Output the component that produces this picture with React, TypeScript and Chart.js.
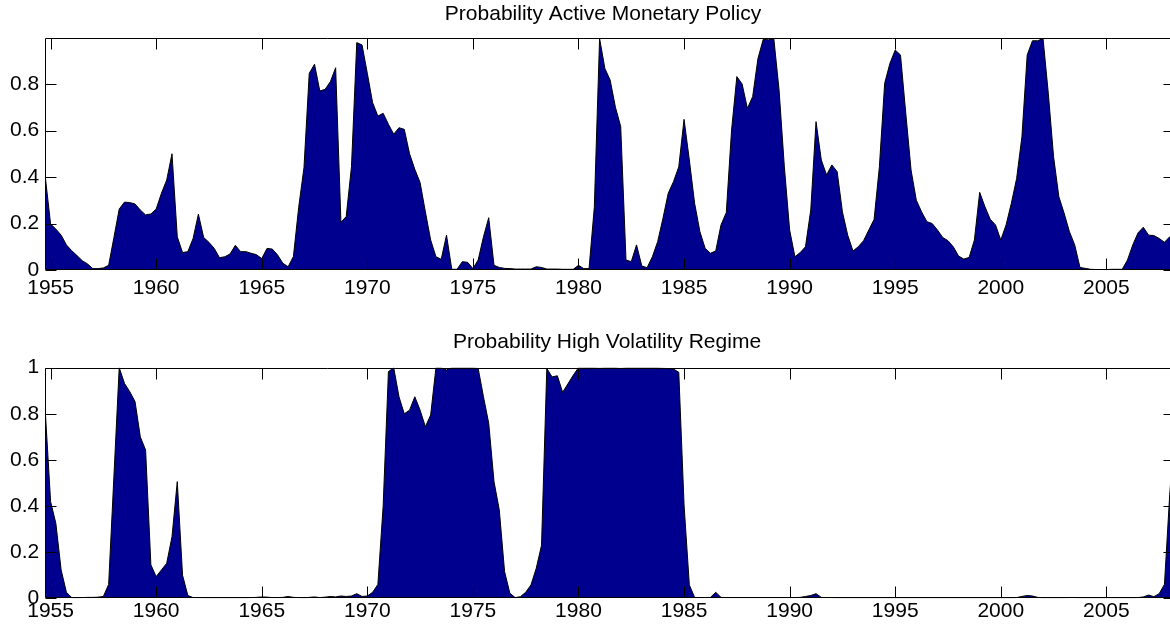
import React, { useEffect, useRef } from 'react';
import { Chart, registerables } from 'chart.js';

Chart.register(...registerables);

// Quarterly observations starting 1954Q4
const START_YEAR = 1954.75;
const END_YEAR = 2008.25;

const xTicks = [1955, 1960, 1965, 1970, 1975, 1980, 1985, 1990, 1995, 2000, 2005];
const activeTicks = [0, 0.2, 0.4, 0.6, 0.8];
const volTicks = [0, 0.2, 0.4, 0.6, 0.8, 1];

const activeTitle = 'Probability Active Monetary Policy';
const volTitle = 'Probability High Volatility Regime';

const activeProb = [
  0.40, 0.198, 0.176, 0.15, 0.108, 0.083, 0.062, 0.04, 0.026, 0.006,
  0.006, 0.009, 0.02, 0.14, 0.262, 0.292, 0.29, 0.284, 0.258, 0.237,
  0.241, 0.262, 0.33, 0.387, 0.50, 0.143, 0.075, 0.079, 0.136, 0.24,
  0.14, 0.119, 0.093, 0.053, 0.057, 0.069, 0.106, 0.079, 0.079, 0.072,
  0.066, 0.049, 0.093, 0.09, 0.065, 0.029, 0.014, 0.058, 0.27, 0.44,
  0.846, 0.885, 0.77, 0.777, 0.81, 0.87, 0.205, 0.23, 0.444, 0.978,
  0.968, 0.846, 0.72, 0.662, 0.674, 0.627, 0.584, 0.612, 0.605, 0.50,
  0.433, 0.376, 0.25, 0.129, 0.057, 0.046, 0.15, 0.003, 0.003, 0.036,
  0.033, 0.006, 0.043, 0.143, 0.225, 0.02, 0.011, 0.007, 0.006, 0.004,
  0.004, 0.004, 0.004, 0.014, 0.011, 0.004, 0.004, 0.004, 0.003, 0.003,
  0.003, 0.02, 0.006, 0.006, 0.27, 0.996, 0.867, 0.817, 0.70, 0.617,
  0.043, 0.036, 0.108, 0.017, 0.01, 0.057, 0.122, 0.222, 0.33, 0.38,
  0.444, 0.648, 0.473, 0.287, 0.165, 0.093, 0.072, 0.082, 0.194, 0.247,
  0.602, 0.832, 0.80, 0.695, 0.746, 0.91, 0.992, 0.99, 0.996, 0.774,
  0.444, 0.172, 0.057, 0.075, 0.10, 0.258, 0.638, 0.473, 0.409, 0.452,
  0.423, 0.25, 0.15, 0.082, 0.10, 0.126, 0.172, 0.218, 0.444, 0.803,
  0.889, 0.946, 0.925, 0.674, 0.43, 0.30, 0.25, 0.208, 0.20, 0.172,
  0.14, 0.126, 0.10, 0.06, 0.047, 0.054, 0.129, 0.334, 0.272, 0.218,
  0.194, 0.129, 0.194, 0.287, 0.394, 0.573, 0.925, 0.986, 0.986, 0.996,
  0.76, 0.487, 0.315, 0.244, 0.165, 0.108, 0.011, 0.007, 0.003, 0.002,
  0.002, 0.002, 0.003, 0.003, 0.003, 0.043, 0.108, 0.16, 0.184, 0.15,
  0.148, 0.136, 0.119, 0.143, 0.15,
];

const highVolProb = [
  0.81, 0.42, 0.325, 0.123, 0.026, 0.003, 0.002, 0.003, 0.004, 0.004,
  0.005, 0.008, 0.06, 0.53, 1.0, 0.932, 0.896, 0.853, 0.70, 0.643,
  0.145, 0.094, 0.123, 0.152, 0.267, 0.506, 0.10, 0.012, 0.003, 0.003,
  0.002, 0.002, 0.002, 0.002, 0.002, 0.002, 0.002, 0.002, 0.002, 0.003,
  0.004, 0.006, 0.005, 0.003, 0.003, 0.004, 0.008, 0.004, 0.003, 0.002,
  0.004, 0.006, 0.003, 0.005, 0.008, 0.006, 0.01, 0.008, 0.01, 0.02,
  0.008, 0.01, 0.026, 0.06, 0.4, 0.983, 1.0, 0.874, 0.80, 0.816,
  0.874, 0.816, 0.744, 0.795, 1.0, 1.0, 0.99, 1.0, 1.0, 1.0,
  1.0, 1.0, 0.997, 0.874, 0.759, 0.506, 0.383, 0.116, 0.022, 0.003,
  0.007, 0.026, 0.058, 0.13, 0.23, 0.997, 0.96, 0.965, 0.893, 0.93,
  0.967, 1.0, 1.0, 1.0, 1.0, 0.998, 1.0, 1.0, 1.0, 0.997,
  1.0, 1.0, 1.0, 1.0, 1.0, 1.0, 1.0, 0.998, 0.996, 0.994,
  0.98, 0.405, 0.058, 0.004, 0.003, 0.003, 0.004, 0.026, 0.004, 0.003,
  0.003, 0.003, 0.003, 0.003, 0.003, 0.003, 0.003, 0.003, 0.003, 0.003,
  0.003, 0.003, 0.003, 0.004, 0.008, 0.012, 0.02, 0.004, 0.003, 0.003,
  0.002, 0.002, 0.002, 0.002, 0.002, 0.002, 0.002, 0.002, 0.002, 0.002,
  0.002, 0.002, 0.002, 0.002, 0.002, 0.002, 0.002, 0.002, 0.002, 0.002,
  0.002, 0.002, 0.002, 0.002, 0.002, 0.002, 0.002, 0.002, 0.002, 0.002,
  0.002, 0.002, 0.002, 0.002, 0.003, 0.008, 0.012, 0.01, 0.004, 0.002,
  0.002, 0.002, 0.002, 0.002, 0.003, 0.003, 0.002, 0.002, 0.002, 0.002,
  0.002, 0.002, 0.002, 0.002, 0.002, 0.002, 0.002, 0.003, 0.006, 0.014,
  0.007, 0.02, 0.06, 0.45, 0.75,
];

const FONT = '"Liberation Sans", Arial, Helvetica, sans-serif';
const FILL = '#00008F';
const CANVAS_W = 1180;
const CANVAS_H = 315;
const TICK_LEN = 11;

const boxPlugin = {
  id: 'matlabBox',
  afterDatasetsDraw(chart: any, _args: any, opts: any) {
    const { ctx, chartArea: a, scales } = chart;
    const xs = scales.x;
    const ys = scales.y;
    const L = Math.round(a.left) + 0.5;
    const R = Math.round(a.right) - 0.5;
    const T = Math.round(a.top) + 0.5;
    const B = Math.round(a.bottom) - 0.5;
    ctx.save();
    ctx.strokeStyle = '#000';
    ctx.lineWidth = 1;
    ctx.beginPath();
    ctx.moveTo(L, T);
    ctx.lineTo(R, T);
    ctx.lineTo(R, B);
    ctx.lineTo(L, B);
    ctx.closePath();
    xs.ticks.forEach((t: any) => {
      const px = Math.round(xs.getPixelForValue(t.value)) + 0.5;
      ctx.moveTo(px, B);
      ctx.lineTo(px, B - TICK_LEN);
      ctx.moveTo(px, T);
      ctx.lineTo(px, T + TICK_LEN);
    });
    ys.ticks.forEach((t: any) => {
      const py = Math.round(ys.getPixelForValue(t.value)) + 0.5;
      ctx.moveTo(L, py);
      ctx.lineTo(L + TICK_LEN, py);
      ctx.moveTo(R, py);
      ctx.lineTo(R - TICK_LEN, py);
    });
    ctx.stroke();
    // title
    if (opts && opts.text) {
      ctx.fillStyle = '#000';
      ctx.font = `21px ${FONT}`;
      ctx.textAlign = 'center';
      ctx.textBaseline = 'middle';
      ctx.fillText(opts.text, opts.x, opts.y);
    }
    ctx.restore();
  },
};

function buildConfig(
  title: string,
  values: number[],
  yTicks: number[],
  yMax: number,
  titleX: number,
  titleY: number,
  areaTop: number,
  xAxisHeight: number,
  xLabelPad: number
): any {
  const font = { family: FONT, size: 21, weight: 'normal' as const };
  return {
    type: 'line',
    data: {
      datasets: [
        {
          data: values.map((v, i) => ({ x: START_YEAR + i * 0.25, y: v })),
          fill: 'origin',
          backgroundColor: FILL,
          borderColor: '#000',
          borderWidth: 1,
          pointRadius: 0,
          tension: 0,
        },
      ],
    },
    options: {
      animation: false,
      responsive: false,
      events: [],
      layout: { padding: { left: 0, right: 5, top: areaTop, bottom: 0 } },
      plugins: {
        legend: { display: false },
        tooltip: { enabled: false },
        title: { display: false },
        matlabBox: { text: title, x: titleX, y: titleY },
      },
      scales: {
        x: {
          type: 'linear',
          min: START_YEAR,
          max: END_YEAR,
          afterBuildTicks: (s: any) => {
            s.ticks = xTicks.map((v) => ({ value: v }));
          },
          afterFit: (s: any) => {
            s.height = xAxisHeight;
          },
          grid: { display: false, drawTicks: false },
          border: { display: false },
          ticks: {
            color: '#000',
            font,
            padding: xLabelPad,
            maxRotation: 0,
            autoSkip: false,
            callback: (v: any) => String(v),
          },
        },
        y: {
          type: 'linear',
          min: 0,
          max: yMax,
          afterBuildTicks: (s: any) => {
            s.ticks = yTicks.map((v) => ({ value: v }));
          },
          afterFit: (s: any) => {
            s.width = 45.3;
          },
          grid: { display: false, drawTicks: false },
          border: { display: false },
          ticks: {
            color: '#000',
            font,
            padding: 6,
            autoSkip: false,
            callback: (v: any) => String(Math.round(Number(v) * 10) / 10),
          },
        },
      },
    },
    plugins: [boxPlugin],
  };
}

export default function App() {
  const topRef = useRef<HTMLCanvasElement | null>(null);
  const botRef = useRef<HTMLCanvasElement | null>(null);

  useEffect(() => {
    const charts: Chart[] = [];
    if (topRef.current) {
      charts.push(
        new Chart(
          topRef.current,
          buildConfig(activeTitle, activeProb, activeTicks, 0.997, 603, 13.8, 38.2, 45, 6)
        )
      );
    }
    if (botRef.current) {
      charts.push(
        new Chart(
          botRef.current,
          buildConfig(volTitle, highVolProb, volTicks, 1, 607, 27, 52.7, 31.7, 0)
        )
      );
    }
    return () => charts.forEach((c) => c.destroy());
  }, []);

  const canvasStyle: React.CSSProperties = {
    display: 'block',
    width: CANVAS_W + 'px',
    height: CANVAS_H + 'px',
  };

  return (
    <div
      style={{
        position: 'absolute',
        left: 0,
        top: 0,
        width: '1170px',
        height: '630px',
        overflow: 'hidden',
        background: '#fff',
      }}
    >
      <canvas ref={topRef} width={CANVAS_W} height={CANVAS_H} style={canvasStyle} />
      <canvas ref={botRef} width={CANVAS_W} height={CANVAS_H} style={canvasStyle} />
    </div>
  );
}
